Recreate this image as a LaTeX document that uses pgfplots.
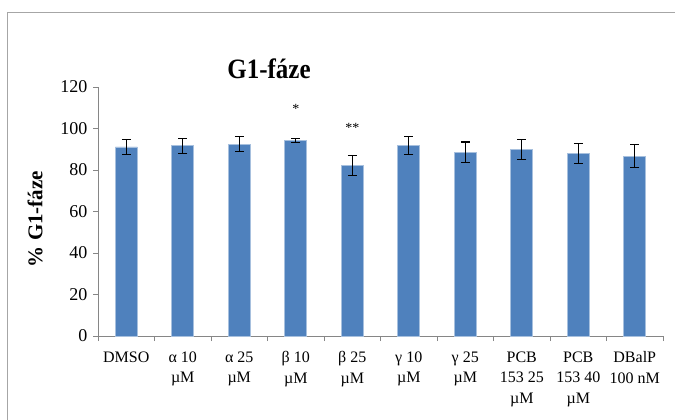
\documentclass[border=0pt]{standalone}
\usepackage{pgfplots}
\pgfplotsset{compat=1.18}
\usepackage{fontspec}
\setmainfont{Liberation Serif}
\definecolor{barblue}{HTML}{4F81BD}
\definecolor{baredge}{HTML}{A7C0DE}
\definecolor{axgray}{HTML}{868686}
\definecolor{framegray}{HTML}{A6A6A6}
\begin{document}
\begin{tikzpicture}[x=1bp,y=1bp]
\draw[framegray, line width=1bp] (7.5,-50) -- (7.5,406.5) -- (900,406.5);
\node[font=\fontsize{25bp}{28bp}\selectfont\bfseries] at (269,350) {\scalebox{1}[1.12]{G1-fáze}};
\node[font=\fontsize{21bp}{24bp}\selectfont\bfseries, rotate=90] at (35,200) {\% G1-fáze};
\begin{axis}[
  at={(98bp,83bp)}, anchor=south west,
  scale only axis, width=565bp, height=249bp,
  xmin=-0.5, xmax=9.5, ymin=0, ymax=120,
  axis lines*=left,
  axis line style={axgray, line width=0.8bp},
  ytick={0,20,...,120},
  xtick={0,...,9},
  xticklabels={DMSO, {α 10\\µM}, {α 25\\µM}, {β 10\\µM}, {β 25\\µM}, {γ 10\\µM}, {γ 25\\µM}, {PCB\\153 25\\µM}, {PCB\\153 40\\µM}, {DBalP\\100 nM}},
  minor xtick={-0.5,0.5,...,9.5},
  major x tick style={draw=none},
  minor x tick style={axgray, line width=0.8bp},
  y tick style={axgray, line width=0.8bp},
  tick align=outside,
  major tick length=5bp, minor tick length=5bp,
  xticklabel style={align=center, font=\fontsize{16bp}{20.5bp}\selectfont, yshift=-7bp},
  yticklabel style={font=\fontsize{18bp}{20bp}\selectfont, xshift=-2bp},
  /pgf/number format/assume math mode=true,
  clip=false,
]
\addplot[ybar, bar width=22bp, fill=barblue, draw=baredge, line width=0.6bp,
  error bars/.cd, y dir=both, y explicit,
  error bar style={black, line width=1.1bp},
  error mark options={black, line width=1.1bp, mark size=4.5bp, rotate=90}]
  table[x=x, y=y, y error=e] {
  x y e
  0 91.1 3.6
  1 91.7 3.6
  2 92.4 3.6
  3 94.1 1.0
  4 82.1 4.8
  5 91.8 4.2
  6 88.6 4.9
  7 89.8 4.9
  8 87.9 4.9
  9 86.6 5.5
  };
\node[font=\fontsize{14bp}{16bp}\selectfont] at (axis cs:3,109.5) {*};
\node[font=\fontsize{14bp}{16bp}\selectfont] at (axis cs:4,100.5) {**};
\end{axis}
\pgfresetboundingbox
\useasboundingbox (0,0) rectangle (675,419);
\end{tikzpicture}
\end{document}
